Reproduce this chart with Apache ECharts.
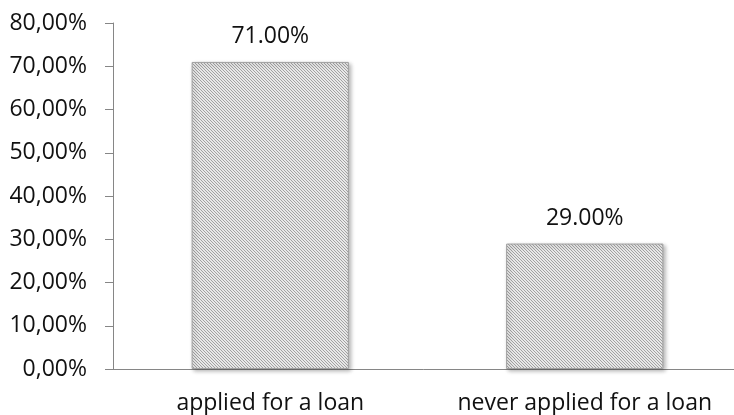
<!DOCTYPE html>
<html>
<head>
<meta charset="utf-8">
<script src="https://cdn.jsdelivr.net/npm/echarts@6/dist/echarts.min.js"></script>
<style>
  html, body { margin: 0; padding: 0; background: #fff; }
  #chart { width: 734px; height: 415px; }
</style>
</head>
<body>
<div id="chart"></div>
<script>
// data
const categories = ['applied for a loan', 'never applied for a loan'];
const shares = [71, 29];
const yTicks = [0, 10, 20, 30, 40, 50, 60, 70, 80];

const FONT = '"Open Sans", sans-serif';

// fine diagonal hatch, like the office chart fill
function hatch() {
  const c = document.createElement('canvas');
  c.width = 3;
  c.height = 3;
  const ctx = c.getContext('2d');
  ctx.fillStyle = '#e8e8e8';
  ctx.fillRect(0, 0, 3, 3);
  ctx.fillStyle = '#a2a2a2';
  for (let i = 0; i < 3; i++) {
    ctx.fillRect(i, i, 1, 1);
  }
  return c;
}

const myChart = echarts.init(document.getElementById('chart'));
const option = {
  animation: false,
  grid: {
    left: 113,
    right: -8,
    top: 23,
    bottom: 46,
    outerBoundsMode: 'none'
  },
  xAxis: {
    type: 'category',
    data: categories,
    axisLine: { lineStyle: { color: '#868686', width: 1 } },
    axisTick: { length: 8, lineStyle: { color: '#868686' } },
    axisLabel: {
      interval: 0,
      hideOverlap: false,
      margin: 23,
      color: '#111',
      fontSize: 23,
      fontFamily: FONT
    }
  },
  yAxis: {
    type: 'value',
    min: yTicks[0],
    max: yTicks[yTicks.length - 1],
    interval: 10,
    splitLine: { show: false },
    axisLine: { show: true, lineStyle: { color: '#868686', width: 1 } },
    axisTick: { show: true, length: 8, lineStyle: { color: '#868686' } },
    axisLabel: {
      margin: 26,
      color: '#111',
      fontSize: 23,
      fontFamily: FONT,
      formatter: v => v.toFixed(2).replace('.', ',') + '%'
    }
  },
  series: [
    {
      type: 'bar',
      data: shares,
      barWidth: '50%',
      itemStyle: {
        color: { image: hatch(), repeat: 'repeat' },
        borderColor: '#a0a0a0',
        borderWidth: 1,
        shadowBlur: 4,
        shadowOffsetX: 2,
        shadowOffsetY: 2,
        shadowColor: 'rgba(0,0,0,0.3)'
      },
      label: {
        show: true,
        position: 'top',
        distance: 14,
        color: '#111',
        fontSize: 23,
        fontFamily: FONT,
        formatter: p => p.value.toFixed(2) + '%'
      }
    }
  ]
};
myChart.setOption(option);
</script>
</body>
</html>
